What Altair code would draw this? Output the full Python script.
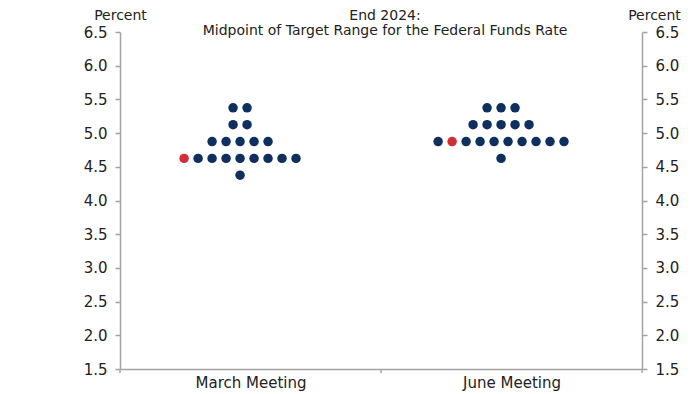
import altair as alt
import pandas as pd

# ---- data ----
meetings = ["March Meeting", "June Meeting"]
rates = [5.375, 5.125, 4.875, 4.625, 4.375]
march_counts = [2, 2, 5, 9, 1]
june_counts = [3, 5, 10, 1, 0]
# (meeting, rate) -> index of the highlighted (median) dot within that row
highlight = {("March Meeting", 4.625): 0, ("June Meeting", 4.875): 1}
y_ticks = [1.5, 2.0, 2.5, 3.0, 3.5, 4.0, 4.5, 5.0, 5.5, 6.0, 6.5]
boundaries = [0, 1, 2]

# ---- styling ----
NAVY = "#0f2f5f"
RED = "#d12f36"
AXIS_GRAY = "#a3a3a3"
TEXT = "#222222"
FONT = "DejaVu Sans"
DOT_STEP = 0.0536      # horizontal dot spacing, in x units
CENTER_SHIFT = -0.04   # dot clusters sit slightly left of label centres

rows = []
for m_i, (meeting, counts) in enumerate(zip(meetings, [march_counts, june_counts])):
    for rate, n in zip(rates, counts):
        for k in range(n):
            rows.append({
                "meeting": meeting,
                "rate": rate,
                "pos": m_i + 0.5 + CENTER_SHIFT + (k - (n - 1) / 2) * DOT_STEP,
                "median": highlight.get((meeting, rate)) == k,
            })
dots = pd.DataFrame(rows)
bounds = pd.DataFrame({"b": boundaries})

label_expr = " : ".join(
    [f"datum.value < {i + 1} ? '{m}'" for i, m in enumerate(meetings[:-1])] + [f"'{meetings[-1]}'"]
)

x_scale = alt.Scale(domain=[0, 2], nice=False, zero=False)
y_scale = alt.Scale(domain=[1.5, 6.5], nice=False, zero=False)

x_axis = alt.Axis(
    orient="bottom", values=[0.5, 1.5], labelExpr=label_expr, ticks=False, tickSize=0,
    grid=False, title=None, domainColor=AXIS_GRAY, domainWidth=1.5, labelPadding=6,
    labelFont=FONT, labelFontSize=15, labelColor=TEXT,
)

def y_axis(orient, title_x):
    return alt.Axis(
        orient=orient, values=y_ticks, format=".1f", grid=False,
        domainColor=AXIS_GRAY, domainWidth=1.5, tickColor=AXIS_GRAY, tickWidth=1.5,
        tickSize=5, labelPadding=8, labelFont=FONT, labelFontSize=15, labelColor=TEXT,
        title="Percent", titleAngle=0, titleAlign="center", titleBaseline="middle",
        titleX=title_x, titleY=-17, titleFont=FONT, titleFontSize=14,
        titleFontWeight="normal", titleColor=TEXT,
    )

points = alt.Chart(dots).mark_circle(size=90, opacity=1).encode(
    x=alt.X("pos:Q", scale=x_scale, axis=x_axis),
    y=alt.Y("rate:Q", scale=y_scale, axis=y_axis("left", 0)),
    color=alt.Color("median:N", scale=alt.Scale(domain=[False, True], range=[NAVY, RED]), legend=None),
)

right = alt.Chart(dots).mark_circle(opacity=0).encode(
    x=alt.X("pos:Q", scale=x_scale, axis=x_axis),
    y=alt.Y("rate:Q", scale=y_scale, axis=y_axis("right", 12)),
)

bticks = alt.Chart(bounds).mark_rule(color=AXIS_GRAY, strokeWidth=1.5).encode(
    x=alt.X("b:Q", scale=x_scale, axis=x_axis),
    y=alt.value(337),
    y2=alt.value(341),
)

chart = (
    alt.layer(points, right, bticks)
    .resolve_axis(y="independent")
    .properties(
        width=522,
        height=337,
        background="white",
        autosize=alt.AutoSizeParams(type="none"),
        padding={"left": 112, "top": 24, "right": 46, "bottom": 22},
        title=alt.Title(
            ["End 2024:", "Midpoint of Target Range for the Federal Funds Rate"],
            font=FONT, fontSize=14, fontWeight="normal", color=TEXT,
            anchor="middle", offset=-30, lineHeight=15, dx=4,
        ),
    )
    .configure_view(stroke="transparent", strokeWidth=0)
)

chart.save("out.html", embed_options={"renderer": "svg", "actions": False})
